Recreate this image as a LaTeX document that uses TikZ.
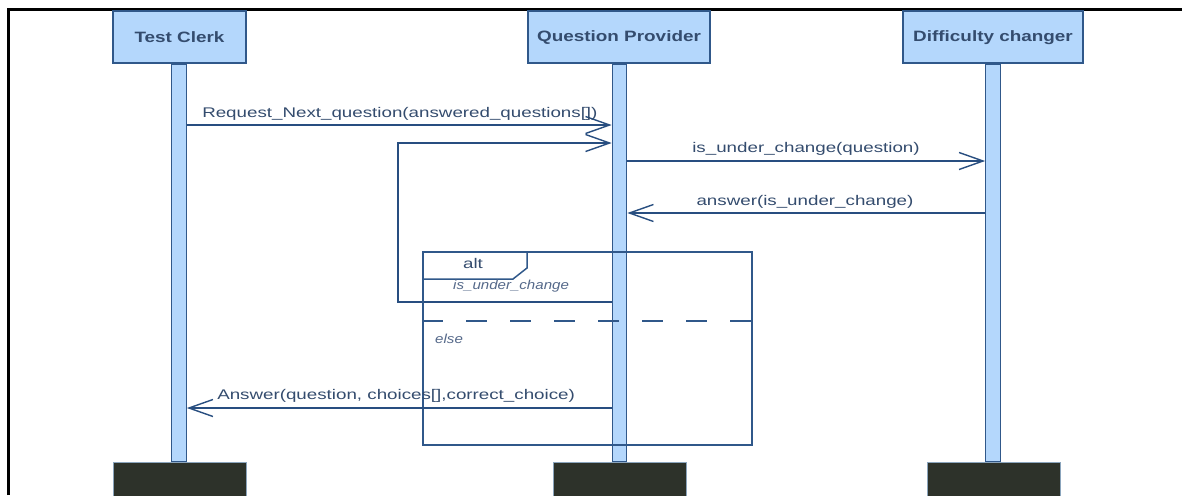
\documentclass[tikz,border=0pt]{standalone}
\usepackage{fontspec}
\setmainfont{Liberation Sans}
\usetikzlibrary{arrows.meta}
\definecolor{boxfill}{RGB}{180,215,252}
\definecolor{boxline}{RGB}{48,88,138}
\definecolor{lncol}{RGB}{40,78,128}
\definecolor{txtcol}{RGB}{52,76,110}
\definecolor{guardcol}{RGB}{85,105,138}
\definecolor{darkbox}{RGB}{45,50,42}
\tikzset{
  head/.style={draw=boxline, fill=boxfill, line width=1.3pt, minimum height=52pt, inner sep=0pt},
  headtxt/.style={font=\fontsize{15}{15}\selectfont\bfseries, text=txtcol, xscale=1.26, transform shape, inner sep=0pt},
  lifebar/.style={draw=boxline, fill=boxfill, line width=1.2pt, minimum width=14.5pt, minimum height=398pt, inner sep=0pt},
  foot/.style={draw=boxfill!70!darkbox, fill=darkbox, line width=0.6pt, minimum width=133pt, minimum height=34pt, inner sep=0pt, anchor=north},
  msg/.style={draw=lncol, line width=1.4pt, -{Straight Barb[length=24pt,width=17pt,line width=1.4pt]}},
  lbl/.style={font=\fontsize{14}{14}\selectfont, text=txtcol, xscale=1.34, transform shape, inner sep=0pt, anchor=base},
  guard/.style={font=\fontsize{13}{13}\selectfont\itshape, text=guardcol, xscale=1.16, transform shape, inner sep=0pt, anchor=base west},
  framebox/.style={draw=boxline, line width=1.5pt, inner sep=0pt, anchor=north west}
}
\begin{document}
\begin{tikzpicture}[x=1pt,y=-1pt]
\useasboundingbox (0,0) rectangle (1182,495);
\fill[white] (0,0) rectangle (1182,495);
% outer border
\draw[black, line width=3pt] (8,495) -- (8,9.5) -- (1182,9.5);
% heads
\node[head, minimum width=133pt] (tc) at (179.5,37) {};
\node[headtxt] (tct) at (179.5,37.5) {Test Clerk};
\node[head, minimum width=182pt] (qp) at (619,37) {};
\node[headtxt] (qpt) at (619,37.5) {Question Provider};
\node[head, minimum width=180pt] (dc) at (993,37) {};
\node[headtxt] (dct) at (993,37.5) {Difficulty changer};
% lifeline bars
\node[lifebar] (tcbar) at (179,263) {};
\node[lifebar] (qpbar) at (619.5,263) {};
\node[lifebar] (dcbar) at (993,263) {};
% foot boxes
\node[foot] (tcf) at (179.5,462) {};
\node[foot] (qpf) at (619.5,462) {};
\node[foot] (dcf) at (993.5,462) {};
% messages
\draw[msg] (tcbar.east |- 0,125) -- (qpbar.west |- 0,125);
\node[lbl, anchor=base west] (m1) at (202,117) {Request\_Next\_question(answered\_questions[])};
\coordinate (lp1) at (398,302);
\coordinate (lp2) at (398,143);
\draw[msg] (qpbar.west |- lp1) -- (lp1) -- (lp2) -- (qpbar.west |- lp2);
\draw[msg] (qpbar.east |- 0,161) -- (dcbar.west |- 0,161);
\node[lbl] (m2) at (806,152) {is\_under\_change(question)};
\draw[msg] (dcbar.west |- 0,213) -- (qpbar.east |- 0,213);
\node[lbl] (m3) at (805,205) {answer(is\_under\_change)};
% alt frame
\node[framebox, minimum width=329pt, minimum height=193pt] (alt) at (422,251) {};
\draw[draw=boxline, line width=1.5pt] (alt.north west) ++(105,0) -- ++(0,17) -- ++(-14,11) -- (alt.west |- 0,279);
\node[lbl] (altt) at (473,268) {alt};
\node[guard] (g1) at (453,289) {is\_under\_change};
\draw[draw=boxline, line width=1.5pt, dash pattern=on 21pt off 23pt] (alt.west |- 0,321) -- (alt.east |- 0,321);
\node[guard] (g2) at (435,343) {else};
\draw[msg] (qpbar.west |- 0,408) -- (tcbar.east |- 0,408);
\node[lbl, anchor=base west] (m4) at (217,399) {Answer(question, choices[],correct\_choice)};
\end{tikzpicture}
\end{document}
